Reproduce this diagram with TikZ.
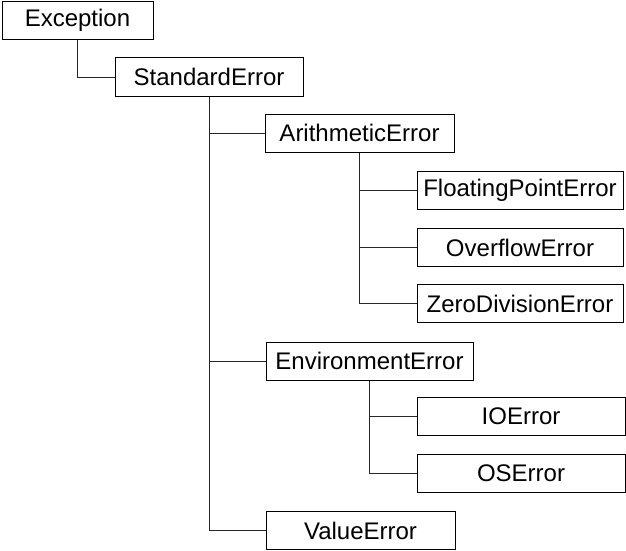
\documentclass[tikz,border=0pt]{standalone}
\usepackage{fontspec}
\setmainfont{Liberation Sans}
\begin{document}
\begin{tikzpicture}[x=1pt,y=-1pt]
  \useasboundingbox (0,0) rectangle (626,551);
  \begin{scope}[every node/.style={draw,line width=1pt,minimum height=38pt,inner sep=0pt,font=\fontsize{24}{28}\selectfont}]
  \node[minimum width=151pt] (exc) at (77.5,20.5) {Exception};
  \node[minimum width=188pt] (std) at (209,77) {StandardError};
  \node[minimum width=189pt] (arith) at (359.5,133) {ArithmeticError};
  \node[minimum width=206pt] (fpe) at (520,190) {FloatingPointError};
  \node[minimum width=206pt] (ovf) at (520,247.5) {OverflowError};
  \node[minimum width=206pt] (zde) at (520,303.5) {ZeroDivisionError};
  \node[minimum width=207pt] (env) at (369.5,361) {EnvironmentError};
  \node[minimum width=208pt] (ioe) at (521,416.5) {IOError};
  \node[minimum width=208pt] (ose) at (521,473.5) {OSError};
  \node[minimum width=189pt] (val) at (360.5,530.5) {ValueError};
  \end{scope}
  \begin{scope}[every path/.style={draw=black!85,line width=1pt}]
  \draw (exc.south) |- (std.west);
  \draw (std.south) |- (arith.west);
  \draw (std.south) |- (env.west);
  \draw (std.south) |- (val.west);
  \draw (arith.south) |- (fpe.west);
  \draw (arith.south) |- (ovf.west);
  \draw (arith.south) |- (zde.west);
  \draw (env.south) |- (ioe.west);
  \draw (env.south) |- (ose.west);
  \end{scope}
\end{tikzpicture}
\end{document}
